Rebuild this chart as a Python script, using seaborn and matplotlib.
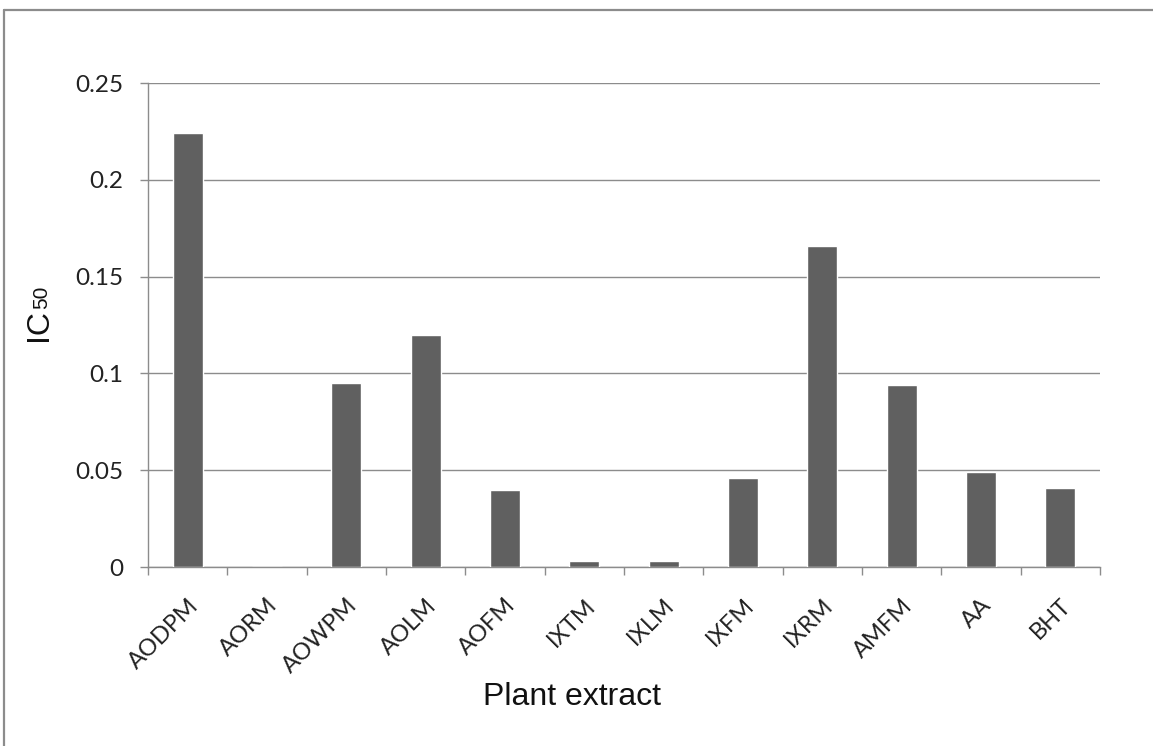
import matplotlib
matplotlib.use("Agg")
import matplotlib.pyplot as plt
import seaborn as sns
import pandas as pd
from matplotlib.lines import Line2D

categories = ["AODPM", "AORM", "AOWPM", "AOLM", "AOFM", "IXTM", "IXLM",
              "IXFM", "IXRM", "AMFM", "AA", "BHT"]
ic50 = [0.224, 0.0, 0.095, 0.120, 0.040, 0.003, 0.003,
        0.046, 0.166, 0.094, 0.049, 0.041]
yticks = [0, 0.05, 0.1, 0.15, 0.2, 0.25]
ytick_labels = ["0", "0.05", "0.1", "0.15", "0.2", "0.25"]

df = pd.DataFrame({"extract": categories, "IC50": ic50})

sns.set_theme(style="white")
plt.rcParams['font.family'] = ['Lato', 'DejaVu Sans']

W, H = 1153, 746
fig = plt.figure(figsize=(W / 100, H / 100), dpi=100)
ax = fig.add_axes([148 / W, 1 - 567 / H, (1100 - 148) / W, (567 - 83) / H])

sns.barplot(data=df, x="extract", y="IC50", color="#606060", saturation=1,
            width=0.38, ax=ax, zorder=3)

grid_c = "#8c8c8c"
ax.set_ylim(0, 0.25)
ax.set_xlim(-0.5, len(categories) - 0.5)
ax.set_yticks(yticks)
ax.set_yticklabels(ytick_labels, fontsize=17.5, color="#222222")
ax.yaxis.grid(True, color=grid_c, linewidth=1)
ax.set_axisbelow(True)

ax.set_xticks(list(range(len(categories))))
ax.set_xticklabels(categories, rotation=45, ha="right", va="top",
                   rotation_mode="anchor", fontsize=17, color="#222222")
ax.tick_params(axis="x", which="major", length=0, pad=20)
ax.set_xticks([i - 0.5 for i in range(len(categories) + 1)], minor=True)
ax.tick_params(axis="x", which="minor", bottom=True, length=5.8, width=1,
               color=grid_c)
ax.tick_params(axis="y", length=5.8, color=grid_c, width=1, pad=12, left=True)

for s in ["top", "right"]:
    ax.spines[s].set_visible(False)
for s in ["left", "bottom"]:
    ax.spines[s].set_color(grid_c)
    ax.spines[s].set_linewidth(1)

ax.set_xlabel("")
ax.set_ylabel("")

# axis titles
fig.text(483 / W, 1 - 705 / H, "Plant extract", fontsize=23,
         family=["Liberation Sans"], ha="left", va="baseline", color="#111111")
fig.text(47 / W, 1 - 341 / H, "IC", fontsize=23, family=["Liberation Sans"],
         rotation=90, rotation_mode="anchor", ha="left", va="baseline",
         color="#111111")
fig.text(47 / W, 1 - 309 / H, "50", fontsize=15, family=["Liberation Sans"],
         rotation=90, rotation_mode="anchor", ha="left", va="baseline",
         color="#111111")

# outer border (top and left visible)
fig.add_artist(Line2D([3.5 / W, 3.5 / W], [0, 1 - 10 / H], color=grid_c, lw=1.6,
                      transform=fig.transFigure))
fig.add_artist(Line2D([3.5 / W, 1], [1 - 10 / H, 1 - 10 / H], color=grid_c, lw=1.6,
                      transform=fig.transFigure))

fig.savefig("out.png", dpi=100)
